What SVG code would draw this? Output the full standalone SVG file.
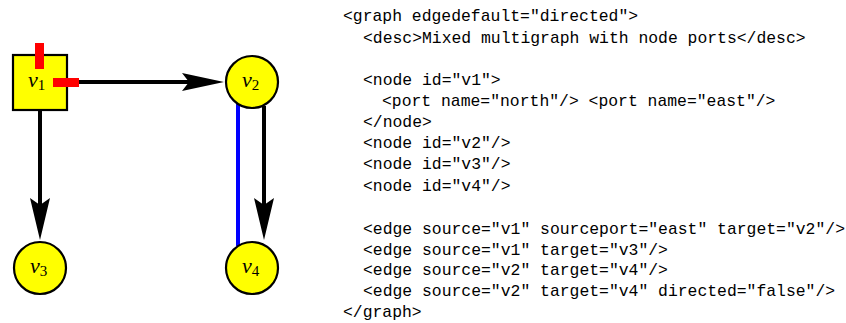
<svg xmlns="http://www.w3.org/2000/svg" width="846" height="323" viewBox="0 0 846 323">
<style>
.node{fill:#ffff00;stroke:#000;stroke-width:2.2}
.port{fill:#ff0000;stroke:none}
.edge{stroke:#000;stroke-width:4;fill:none}
.undir{stroke:#0000ff;stroke-width:4;fill:none}
.head{fill:#000;stroke:none}
.lbl{font-family:"Liberation Serif","DejaVu Serif",serif;font-style:italic;font-size:22px;fill:#000}
.sub{font-style:normal;font-size:15px}
.code{font-family:"Liberation Mono","DejaVu Sans Mono",monospace;font-size:16.4px;fill:#000}
</style>
<rect width="846" height="323" fill="#fff"/>
<g id="connectors">
  <line class="edge" x1="79" y1="82" x2="190" y2="82"/>
  <path class="head" d="M224,82 L182,73 L189,82 L182,91 Z"/>
  <line class="edge" x1="40" y1="110" x2="40" y2="206"/>
  <path class="head" d="M40,240 L30,198 L40,205 L50,198 Z"/>
  <line class="edge" x1="264" y1="106" x2="264" y2="206"/>
  <path class="head" d="M264,240 L254,198 L264,205 L274,198 Z"/>
  <line class="undir" x1="238" y1="104" x2="238" y2="246"/>
</g>
<g id="v1">
  <rect class="node" x="13" y="55" width="54" height="55"/>
  <text class="lbl" x="28" y="87">v<tspan class="sub" dy="3">1</tspan></text>
  <rect class="port" x="35" y="43" width="9" height="26"/>
  <rect class="port" x="53" y="78" width="26" height="9"/>
</g>
<g id="v2">
  <circle class="node" cx="252" cy="82" r="26"/>
  <text class="lbl" x="242" y="87">v<tspan class="sub" dy="3">2</tspan></text>
</g>
<g id="v3">
  <circle class="node" cx="40" cy="268" r="26"/>
  <text class="lbl" x="30" y="273">v<tspan class="sub" dy="3">3</tspan></text>
</g>
<g id="v4">
  <circle class="node" cx="252" cy="268" r="26"/>
  <text class="lbl" x="242" y="273">v<tspan class="sub" dy="3">4</tspan></text>
</g>
<g id="code" class="code">
  <text x="343" y="21">&lt;graph edgedefault="directed"&gt;</text>
  <text x="363" y="43">&lt;desc&gt;Mixed multigraph with node ports&lt;/desc&gt;</text>
  <text x="363" y="85">&lt;node id="v1"&gt;</text>
  <text x="382" y="106">&lt;port name="north"/&gt; &lt;port name="east"/&gt;</text>
  <text x="363" y="127">&lt;/node&gt;</text>
  <text x="363" y="148">&lt;node id="v2"/&gt;</text>
  <text x="363" y="169">&lt;node id="v3"/&gt;</text>
  <text x="363" y="191">&lt;node id="v4"/&gt;</text>
  <text x="363" y="234">&lt;edge source="v1" sourceport="east" target="v2"/&gt;</text>
  <text x="363" y="255">&lt;edge source="v1" target="v3"/&gt;</text>
  <text x="363" y="275">&lt;edge source="v2" target="v4"/&gt;</text>
  <text x="363" y="296">&lt;edge source="v2" target="v4" directed="false"/&gt;</text>
  <text x="343" y="317">&lt;/graph&gt;</text>
</g>
</svg>
